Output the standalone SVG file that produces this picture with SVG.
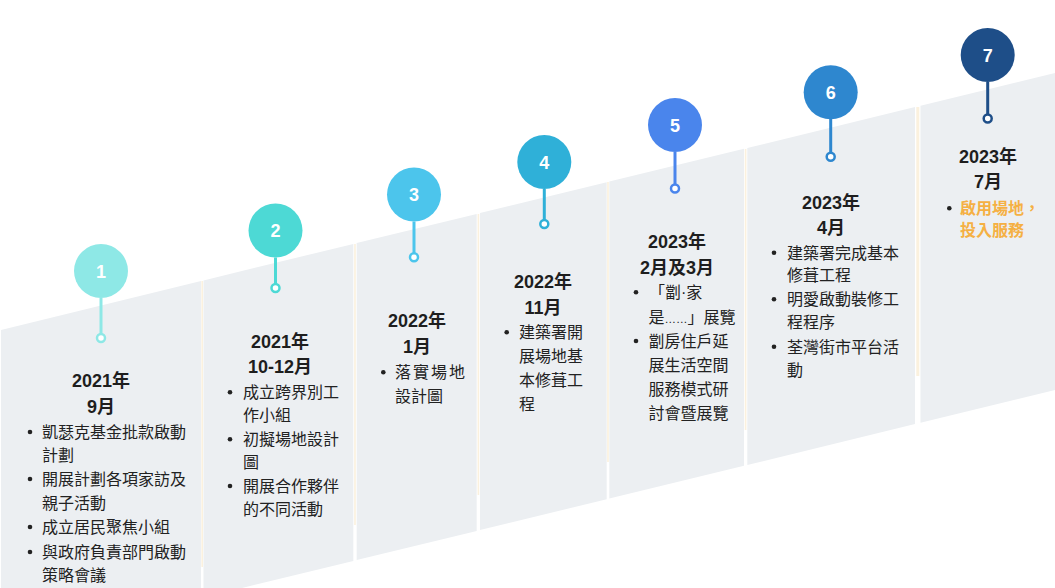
<svg xmlns="http://www.w3.org/2000/svg" width="1055" height="588" viewBox="0 0 1055 588">
<style>
.band{fill:#ECEFF2}
.sep{stroke:#FBF1DE;stroke-width:1.6}
.num{font-family:"Liberation Sans","Noto Sans",sans-serif;font-weight:bold;font-size:18px;fill:#ffffff;text-anchor:middle}
.yr{font-family:"Liberation Sans","Noto Sans CJK TC",sans-serif;font-weight:bold;font-size:18px;fill:#1e1e1e;text-anchor:middle}
.it{font-family:"Noto Sans CJK TC","Noto Sans CJK SC",sans-serif;font-size:16px;fill:#222222}
.lat{font-family:"Liberation Sans",sans-serif}
.hl{font-family:"Noto Sans CJK TC","Noto Sans CJK SC",sans-serif;font-size:16px;font-weight:bold;fill:#F5B043}
.dot{fill:#222222}
.ring{fill:#ffffff;stroke-width:2.5}
.stem{stroke-width:3;fill:none}
</style>
<rect width="1055" height="588" fill="#ffffff"/>
<g id="band">
<polygon class="band" points="1,330 201,281 201,598 1,647"/>
<polygon class="band" points="203.5,280.4 353.3,243.9 353.3,560.9 203.5,597.4"/>
<polygon class="band" points="356.7,243.1 476.7,213.9 476.7,530.9 356.7,560.1"/>
<polygon class="band" points="480,213.1 606.7,182.2 606.7,499.2 480,530.1"/>
<polygon class="band" points="609.3,181.6 744,148.8 744,465.8 609.3,498.6"/>
<polygon class="band" points="747.3,148 915,107.1 915,424.1 747.3,465"/>
<polygon class="band" points="920.5,105.8 1055,73 1055,390 920.5,422.8"/>
<line class="sep" x1="202.2" y1="281" x2="202.2" y2="567"/>
<line class="sep" x1="355" y1="244" x2="355" y2="525"/>
<line class="sep" x1="478.4" y1="214" x2="478.4" y2="495"/>
<line class="sep" x1="608" y1="182" x2="608" y2="462"/>
<line class="sep" x1="745.6" y1="149" x2="745.6" y2="430"/>
<line class="sep" x1="917.8" y1="107" x2="917.8" y2="376" style="stroke-width:3"/>
</g>
<g id="connectors">
<line class="stem" stroke="#8EE8E6" x1="101" y1="298" x2="101" y2="334"/>
<line class="stem" stroke="#4DD9D5" x1="275.5" y1="257.5" x2="275.5" y2="284"/>
<line class="stem" stroke="#4CC5EC" x1="414" y1="221.5" x2="414" y2="253"/>
<line class="stem" stroke="#2FB0D8" x1="544.3" y1="189" x2="544.3" y2="220"/>
<line class="stem" stroke="#4A85EC" x1="675" y1="152" x2="675" y2="184.5"/>
<line class="stem" stroke="#2E87CF" x1="830.7" y1="119" x2="830.7" y2="152.7"/>
<line class="stem" stroke="#1E4E88" x1="987.7" y1="82" x2="987.7" y2="114.5"/>
</g>
<g id="node1">
<circle cx="101" cy="271" r="27" fill="#8EE8E6"/>
<text class="num" x="101" y="277.5">1</text>
<circle class="ring" stroke="#8EE8E6" cx="101" cy="338" r="4"/>
<text class="yr" x="101" y="387">2021年</text>
<text class="yr" x="101" y="413">9月</text>
<circle class="dot" cx="30" cy="432" r="2.3"/>
<circle class="dot" cx="30" cy="479" r="2.3"/>
<circle class="dot" cx="30" cy="527" r="2.3"/>
<circle class="dot" cx="30" cy="552" r="2.3"/>
<text class="it" x="42" y="438">凱瑟克基金批款啟動</text>
<text class="it" x="42" y="461">計劃</text>
<text class="it" x="42" y="485">開展計劃各項家訪及</text>
<text class="it" x="42" y="509">親子活動</text>
<text class="it" x="42" y="533">成立居民聚焦小組</text>
<text class="it" x="42" y="558">與政府負責部門啟動</text>
<text class="it" x="42" y="581">策略會議</text>
</g>
<g id="node2">
<circle cx="275.5" cy="230.5" r="27" fill="#4DD9D5"/>
<text class="num" x="275.5" y="237">2</text>
<circle class="ring" stroke="#4DD9D5" cx="275.5" cy="288" r="4"/>
<text class="yr" x="280" y="347.5">2021年</text>
<text class="yr" x="280" y="373">10-12月</text>
<circle class="dot" cx="230" cy="392.3" r="2.3"/>
<circle class="dot" cx="230" cy="439.3" r="2.3"/>
<circle class="dot" cx="230" cy="486" r="2.3"/>
<text class="it" x="243" y="398">成立跨界別工</text>
<text class="it" x="243" y="421">作小組</text>
<text class="it" x="243" y="445">初擬場地設計</text>
<text class="it" x="243" y="468">圖</text>
<text class="it" x="243" y="492">開展合作夥伴</text>
<text class="it" x="243" y="515">的不同活動</text>
</g>
<g id="node3">
<circle cx="414" cy="194.5" r="27" fill="#4CC5EC"/>
<text class="num" x="414" y="201">3</text>
<circle class="ring" stroke="#4CC5EC" cx="414" cy="257.3" r="4"/>
<text class="yr" x="417" y="327">2022年</text>
<text class="yr" x="417" y="353">1月</text>
<circle class="dot" cx="383.3" cy="372.3" r="2.3"/>
<text class="it" x="395" y="378" textLength="70" lengthAdjust="spacing">落實場地</text>
<text class="it" x="395" y="402">設計圖</text>
</g>
<g id="node4">
<circle cx="544.3" cy="162" r="27" fill="#2FB0D8"/>
<text class="num" x="544.3" y="168.5">4</text>
<circle class="ring" stroke="#2FB0D8" cx="544.3" cy="224" r="4"/>
<text class="yr" x="543" y="288">2022年</text>
<text class="yr" x="543" y="314">11月</text>
<circle class="dot" cx="506.7" cy="332.3" r="2.3"/>
<text class="it" x="519" y="338">建築署開</text>
<text class="it" x="519" y="362">展場地基</text>
<text class="it" x="519" y="386">本修葺工</text>
<text class="it" x="519" y="410">程</text>
</g>
<g id="node5">
<circle cx="675" cy="125" r="27" fill="#4A85EC"/>
<text class="num" x="675" y="131.5">5</text>
<circle class="ring" stroke="#4A85EC" cx="675" cy="188.5" r="4"/>
<text class="yr" x="677" y="248">2023年</text>
<text class="yr" x="677" y="274">2月及3月</text>
<circle class="dot" cx="636" cy="292.3" r="2.3"/>
<circle class="dot" cx="636" cy="341" r="2.3"/>
<text class="it" x="649" y="298">「劏<tspan class="lat">·</tspan>家</text>
<text class="it" x="648.5" y="323">是<tspan class="lat" style="font-size:11.5px">……</tspan>」展覽</text>
<text class="it" x="648.5" y="347">劏房住戶延</text>
<text class="it" x="648.5" y="371">展生活空間</text>
<text class="it" x="648.5" y="395">服務模式研</text>
<text class="it" x="648.5" y="419">討會暨展覽</text>
</g>
<g id="node6">
<circle cx="830.7" cy="92.3" r="27" fill="#2E87CF"/>
<text class="num" x="830.7" y="98.8">6</text>
<circle class="ring" stroke="#2E87CF" cx="830.7" cy="156.7" r="4"/>
<text class="yr" x="831" y="209">2023年</text>
<text class="yr" x="831" y="234">4月</text>
<circle class="dot" cx="774" cy="252.7" r="2.3"/>
<circle class="dot" cx="774" cy="299.3" r="2.3"/>
<circle class="dot" cx="774" cy="346.7" r="2.3"/>
<text class="it" x="787" y="259">建築署完成基本</text>
<text class="it" x="787" y="281">修葺工程</text>
<text class="it" x="787" y="305">明愛啟動裝修工</text>
<text class="it" x="787" y="328">程程序</text>
<text class="it" x="787" y="353">荃灣街市平台活</text>
<text class="it" x="787" y="376">動</text>
</g>
<g id="node7">
<circle cx="987.7" cy="55" r="27" fill="#1E4E88"/>
<text class="num" x="987.7" y="61.5">7</text>
<circle class="ring" stroke="#1E4E88" cx="987.7" cy="118.5" r="4"/>
<text class="yr" x="988" y="163">2023年</text>
<text class="yr" x="988" y="188">7月</text>
<circle class="dot" cx="949.3" cy="208.3" r="2.3"/>
<text class="hl" x="960" y="214">啟用場地，</text>
<text class="hl" x="960" y="236">投入服務</text>
</g>
</svg>
